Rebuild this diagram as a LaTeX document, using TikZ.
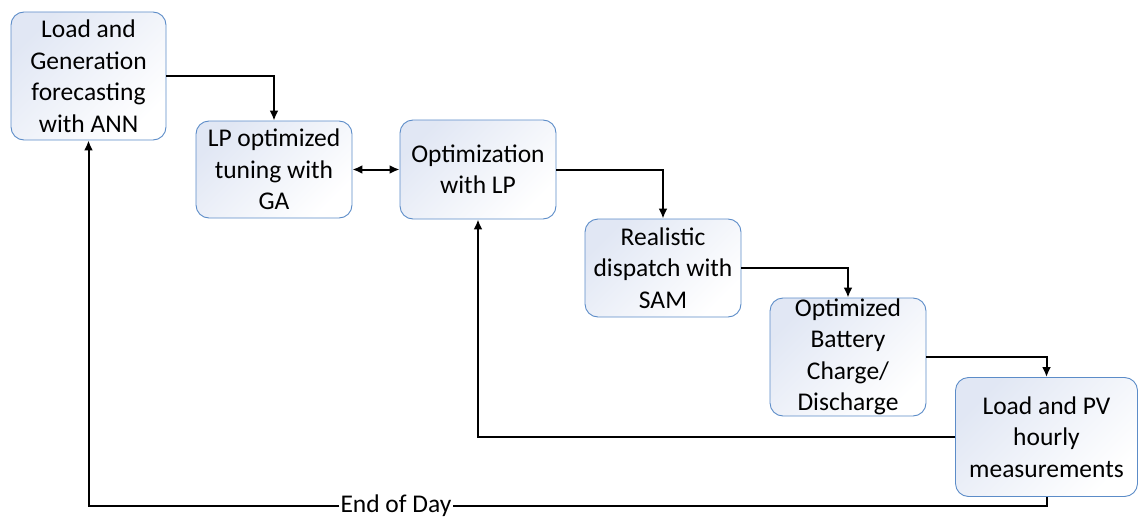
\documentclass[tikz,border=0pt]{standalone}
\usepackage{fontspec}
\setmainfont{Carlito}
\usetikzlibrary{arrows.meta}
\begin{document}
\begin{tikzpicture}[x=1pt,y=-1pt,
  box/.style={draw=boxblue, line width=0.9pt, rounded corners=13pt,
    top color=boxtint, bottom color=white, shading angle=45,
    align=center, inner sep=0pt, font=\fontsize{25.5}{31.5}\selectfont},
  arr/.style={line width=2pt, -{Latex[length=10pt,width=9pt]}},
  line/.style={line width=2pt}]
\definecolor{boxblue}{RGB}{92,140,200}
\definecolor{boxtint}{RGB}{225,231,244}
\useasboundingbox (0,0) rectangle (1138,519);
\node[box, minimum width=155pt, minimum height=128pt] (b1) at (88.5,76)
  {Load and\\Generation\\forecasting\\with ANN};
\node[box, minimum width=156pt, minimum height=97pt] (b2) at (274,169.5)
  {LP optimized\\tuning with\\GA};
\node[box, minimum width=156pt, minimum height=99pt] (b3) at (478,169.5)
  {Optimization\\with LP};
\node[box, minimum width=156pt, minimum height=98pt] (b4) at (663,268)
  {Realistic\\dispatch with\\SAM};
\node[box, minimum width=156pt, minimum height=118pt] (b5) at (848,357)
  {Optimized\\Battery\\Charge/\\Discharge};
\node[box, minimum width=182pt, minimum height=119pt] (b6) at (1046.5,437)
  {Load and PV\\hourly\\measurements};
\node[font=\fontsize{25.5}{30}\selectfont, inner sep=1pt] (eod) at (396,506) {End of Day};

\draw[arr] (b1.east) -| (b2.north);
\draw[line, {Latex[length=10pt,width=9pt]}-{Latex[length=10pt,width=9pt]}] (b2.east) -- (b3.west);
\draw[arr] (b3.east) -| (b4.north);
\draw[arr] (b4.east) -| (b5.north);
\draw[arr] (b5.east) -| (b6.north);
\draw[arr] (b6.west) -| (b3.south);
\draw[line] (b6.south) |- (eod.east);
\draw[arr] (eod.west) -| (b1.south);
\end{tikzpicture}
\end{document}
